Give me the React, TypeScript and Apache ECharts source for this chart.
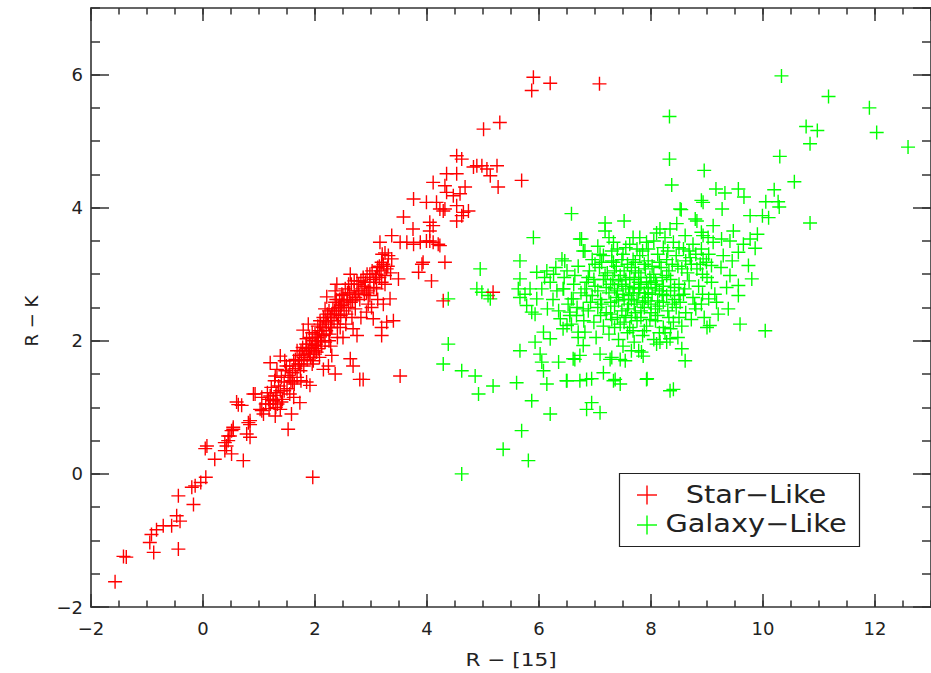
import React, { useEffect, useRef } from "react";
import * as echarts from "echarts";

type P = [number, number];

// Star-like objects: lower tail of the sequence
const starTail: P[] = [
  [-1.57, -1.62], [-1.42, -1.24], [-1.37, -1.25], [-0.95, -1.03], [-0.88, -1.18], [-0.92, -0.91],
  [-0.83, -0.84], [-0.71, -0.78], [-0.56, -0.78], [-0.47, -0.63], [-0.41, -0.71], [-0.44, -1.13],
  [-0.44, -0.33], [-0.17, -0.46], [-0.2, -0.2], [-0.14, -0.18], [-0.04, -0.13], [0.05, -0.05],
  [0.04, 0.38], [0.21, 0.22], [0.39, 0.35], [0.42, 0.42], [0.45, 0.5], [0.48, 0.57], [0.54, 0.67],
  [0.51, 0.3], [0.72, 0.2], [0.63, 1.04], [0.78, 0.6], [0.81, 0.77], [0.84, 0.74], [0.9, 1.2],
  [1.05, 1.15], [1.05, 0.95], [1.08, 0.9], [1.2, 1.05], [1.26, 1.12], [1.32, 1.22], [1.29, 0.87],
  [1.96, -0.05], [2.86, 1.42], [3.52, 1.47], [0.07, 0.42], [0.39, 0.47], [0.45, 0.57], [0.51, 0.65],
  [0.54, 0.7], [0.6, 1.08], [0.69, 1.03], [0.84, 0.8], [0.84, 0.55], [0.93, 1.2], [1.02, 0.97],
  [1.17, 1.12], [1.2, 1.17], [1.38, 0.97], [1.52, 0.67], [1.58, 0.9], [1.73, 1.07],
];

// Star-like objects: dense main band
const starBand: P[] = [
  [1.2, 1.67], [1.29, 1.47], [1.32, 1.57], [1.38, 1.77], [1.46, 1.7], [1.49, 1.62], [1.79, 2.16],
  [1.85, 2.03], [1.91, 1.95], [2.0, 1.93], [2.03, 1.83], [1.85, 1.38], [1.91, 1.33], [2.15, 1.57],
  [2.24, 1.62], [2.36, 1.5], [2.63, 1.73], [2.68, 1.62], [2.8, 1.42], [2.09, 2.3], [2.18, 2.48],
  [2.21, 2.66], [2.39, 2.85], [2.36, 2.75], [2.63, 3.0], [2.75, 2.9], [2.47, 2.53], [2.56, 2.4],
  [2.68, 2.18], [2.75, 2.08], [2.92, 2.43], [3.01, 2.5], [3.04, 2.33], [3.19, 2.2], [3.28, 2.28],
  [3.4, 2.3], [3.19, 2.08], [3.34, 2.63], [3.49, 2.93], [2.98, 2.68], [3.1, 2.78], [3.19, 2.88],
  [3.25, 2.98], [3.28, 3.08], [3.19, 3.18], [3.31, 3.28], [3.37, 3.23],
  [1.12, 1.05], [1.15, 1.22], [1.18, 0.98], [1.22, 1.3], [1.25, 1.1], [1.28, 1.4], [1.3, 1.18],
  [1.33, 1.05], [1.35, 1.32], [1.38, 1.25], [1.4, 1.45], [1.42, 1.12], [1.45, 1.38], [1.47, 1.55],
  [1.5, 1.28], [1.52, 1.48], [1.55, 1.62], [1.57, 1.4], [1.6, 1.52], [1.62, 1.7], [1.63, 1.35],
  [1.65, 1.58], [1.68, 1.45], [1.7, 1.65], [1.68, 1.85], [1.72, 1.78], [1.74, 1.55], [1.76, 1.7],
  [1.78, 1.9], [1.8, 1.62], [1.82, 1.8], [1.84, 1.95], [1.86, 1.72], [1.88, 1.85], [1.9, 2.05],
  [1.92, 1.75], [1.94, 1.9], [1.96, 2.0], [1.98, 1.85], [2.0, 2.1], [1.97, 1.7], [2.02, 1.95],
  [2.04, 2.05], [2.06, 1.88], [2.08, 2.15], [2.1, 2.0], [2.12, 1.92], [2.05, 2.22], [1.88, 2.25],
  [2.14, 2.2], [2.16, 2.08], [2.18, 2.3], [2.2, 2.15], [2.22, 2.4], [2.24, 2.25], [2.26, 2.1],
  [2.28, 2.35], [2.3, 2.2], [2.32, 2.48], [2.34, 2.3], [2.36, 2.58], [2.38, 2.4], [2.4, 2.25],
  [2.42, 2.5], [2.18, 1.98], [2.28, 1.92], [2.4, 2.05], [2.44, 2.62], [2.46, 2.38], [2.48, 2.7],
  [2.5, 2.55], [2.52, 2.45], [2.54, 2.78], [2.57, 2.62], [2.6, 2.5], [2.62, 2.72], [2.65, 2.85],
  [2.67, 2.6], [2.7, 2.75], [2.72, 2.48], [2.75, 2.7], [2.78, 2.85], [2.8, 2.62], [2.55, 2.25],
  [2.66, 2.35], [2.82, 2.35], [2.84, 2.78], [2.86, 2.95], [2.88, 2.7], [2.9, 2.88], [2.93, 3.0],
  [2.95, 2.75], [2.98, 2.88], [3.02, 3.05], [3.05, 2.8], [3.08, 2.95], [3.12, 3.1], [3.15, 2.95],
  [3.18, 3.05], [3.22, 3.15], [3.25, 2.85], [3.3, 3.12], [3.35, 3.02], [3.12, 2.62], [3.22, 2.55],
  [2.95, 2.55],
  [1.45, 1.25], [1.55, 1.45], [1.6, 1.38], [1.65, 1.72], [1.72, 1.65], [1.75, 1.85], [1.8, 1.75],
  [1.85, 1.88], [1.9, 1.8], [1.95, 2.12], [2.0, 1.8], [2.02, 2.05], [2.06, 2.0], [2.1, 2.25],
  [2.12, 2.1], [2.15, 2.35], [2.2, 2.28], [2.25, 2.45], [2.28, 2.2], [2.3, 2.4], [2.35, 2.45],
  [2.38, 2.62], [2.42, 2.35], [2.45, 2.5], [2.5, 2.68], [2.52, 2.6], [2.58, 2.72], [2.6, 2.85],
  [2.64, 2.58], [2.7, 2.9], [2.72, 2.65], [2.78, 2.75], [2.82, 2.9], [2.88, 2.82], [2.92, 2.72],
  [2.98, 3.0], [3.05, 2.92], [3.1, 3.0], [3.15, 3.12], [1.95, 1.65], [2.08, 1.75], [2.25, 2.0],
  [2.45, 2.2], [1.55, 1.2], [1.3, 1.0], [1.4, 1.08], [1.62, 1.15], [1.75, 1.4], [2.3, 1.78],
  [2.5, 2.05],
];

// Star-like objects: upper end of the sequence
const starUpper: P[] = [
  [3.16, 3.48], [3.37, 3.58], [3.52, 3.48], [3.64, 3.48], [3.76, 3.45], [3.88, 3.48], [4.05, 3.5],
  [4.2, 3.45], [4.05, 3.65], [3.91, 3.15], [3.85, 3.03], [4.08, 2.9], [4.32, 3.18], [3.99, 4.08],
  [4.23, 3.98], [4.65, 3.93], [4.53, 3.8], [4.05, 3.78], [4.11, 3.73], [3.99, 3.5], [4.11, 3.48],
  [4.23, 3.43], [3.93, 3.18], [4.29, 2.6], [5.18, 2.73], [5.9, 5.96], [5.87, 5.76], [6.2, 5.87],
  [7.08, 5.86], [5.01, 5.18], [5.3, 5.28], [5.69, 4.41], [4.53, 4.78], [4.62, 4.73], [4.83, 4.61],
  [4.89, 4.63], [4.98, 4.63], [5.07, 4.58], [5.25, 4.63], [5.13, 4.48], [5.27, 4.31], [4.35, 4.51],
  [4.53, 4.51], [4.68, 4.31], [4.11, 4.38], [4.32, 4.33], [4.35, 4.23], [4.47, 4.18], [4.59, 4.21],
  [3.76, 4.13], [4.17, 4.08], [4.32, 3.98], [4.53, 4.03], [4.74, 3.95], [3.58, 3.86], [3.75, 3.68],
  [4.29, 3.95], [4.62, 3.88], [3.2, 3.3], [3.25, 3.32],
];

// Galaxy-like objects: sparse outskirts
const galaxyOuter: P[] = [
  [10.33, 5.98], [11.17, 5.67], [11.9, 5.5], [12.03, 5.13], [12.59, 4.91], [10.77, 5.22], [10.97, 5.16],
  [10.84, 4.96], [10.3, 4.77], [10.56, 4.39], [8.33, 5.37], [8.33, 4.73], [8.37, 4.34], [8.95, 4.56],
  [9.16, 4.28], [9.32, 4.22], [9.56, 4.28], [9.66, 4.16], [8.9, 4.11], [8.54, 3.97], [8.79, 3.83],
  [9.27, 3.98], [9.77, 3.88], [9.99, 3.88], [10.05, 4.09], [10.2, 4.27], [10.27, 4.09], [10.29, 4.01],
  [10.84, 3.77], [7.52, 3.8], [7.18, 3.77], [6.58, 3.91], [5.9, 3.55], [6.76, 3.53], [6.79, 3.35],
  [5.66, 3.2], [4.95, 3.08], [4.89, 2.78], [4.98, 2.73], [5.09, 2.68], [5.13, 2.63], [4.38, 2.63],
  [4.38, 1.95], [4.29, 1.65], [4.62, 1.55], [4.86, 1.47], [5.18, 1.32], [4.92, 1.2], [5.87, 1.1],
  [6.2, 0.9], [6.85, 0.97], [5.69, 0.65], [5.36, 0.37], [5.81, 0.2], [4.62, 0.0], [6.94, 1.07],
  [7.09, 0.92], [8.34, 1.25], [8.4, 1.27], [10.04, 2.15], [9.59, 2.25], [9.05, 2.23],
];

// Galaxy-like objects: intermediate region
const galaxyMid: P[] = [
  [9.11, 3.73], [9.47, 3.65], [9.77, 3.53], [9.86, 3.39], [8.93, 3.58], [9.11, 3.48], [9.26, 3.53],
  [9.41, 3.5], [9.56, 3.33], [9.29, 3.28], [9.03, 3.3], [8.93, 3.23], [9.74, 3.13], [9.8, 2.93],
  [9.41, 2.98], [9.56, 2.83], [9.56, 2.68], [9.38, 2.48], [9.08, 2.88], [9.14, 2.7], [9.03, 2.63],
  [9.17, 2.58], [9.08, 3.13], [8.99, 3.18], [5.66, 2.93], [5.63, 2.78], [5.66, 2.65], [5.78, 2.53],
  [5.87, 2.43], [5.96, 2.63], [5.93, 2.4], [5.84, 2.78], [6.05, 2.78], [5.96, 3.03], [6.14, 3.05],
  [6.26, 3.0], [6.41, 3.23], [6.44, 2.78], [6.32, 2.75], [6.61, 2.63], [6.85, 2.68], [6.79, 2.48],
  [6.67, 2.38], [6.55, 2.43], [6.08, 2.13], [5.93, 1.98], [5.66, 1.85], [6.2, 2.03], [6.02, 1.8],
  [6.05, 1.68], [6.08, 1.55], [6.35, 1.68], [6.38, 2.33], [6.5, 2.23], [6.61, 1.73], [6.73, 1.78],
  [6.79, 1.93], [6.82, 2.13], [6.5, 1.4], [6.73, 1.4], [6.85, 1.42], [5.6, 1.37], [6.14, 1.35],
  [6.94, 1.43], [7.15, 1.52], [7.36, 1.42], [7.45, 1.35], [7.93, 1.43], [8.55, 1.88], [8.61, 1.7],
  [6.64, 1.72], [7.09, 1.8], [7.27, 1.72], [7.54, 1.7], [7.83, 1.83], [8.1, 1.95], [8.28, 1.98],
  [7.18, 3.65], [7.33, 3.48], [8.52, 3.98], [8.82, 3.8], [8.93, 4.08], [8.16, 3.68], [8.34, 3.68],
  [8.46, 3.76], [8.61, 3.58], [8.9, 3.63], [9.02, 3.55], [6.73, 3.53], [6.82, 3.35], [6.46, 3.2],
  [6.64, 2.98], [6.43, 2.78], [6.58, 2.63], [6.55, 2.38], [6.43, 2.18], [6.7, 2.13], [7.09, 3.3],
  [7.33, 3.18], [7.68, 3.55], [7.92, 3.48], [7.3, 1.75], [7.45, 1.72], [7.78, 1.85], [7.86, 1.77],
  [8.16, 1.98], [8.34, 2.03], [9.0, 2.2], [7.33, 1.4], [7.92, 1.42], [6.49, 1.4],
  [6.5, 3.05], [6.62, 2.85], [6.7, 3.12], [6.75, 2.72], [6.52, 2.55], [6.68, 2.5], [6.8, 2.3],
  [6.58, 2.25], [6.45, 2.95], [6.7, 2.05], [8.9, 2.55], [9.0, 2.95], [9.25, 3.1], [9.2, 2.4],
  [8.95, 2.35], [9.45, 3.2], [9.65, 3.45], [9.9, 3.6], [10.1, 3.85], [9.35, 2.8], [6.2, 2.88],
  [6.3, 3.1], [6.1, 2.95], [6.25, 2.62], [5.75, 2.7], [6.15, 2.48], [6.35, 2.45],
];

// Galaxy-like objects: dense core
const galaxyCore: P[] = [
  [7.05, 3.42], [7.4, 3.38], [7.62, 3.45], [7.85, 3.35], [8.05, 3.5], [8.22, 3.4], [8.4, 3.48],
  [8.58, 3.38], [8.75, 3.45], [7.25, 3.55], [8.1, 3.62], [6.95, 3.22], [7.15, 3.28], [7.3, 3.2],
  [7.5, 3.3], [7.68, 3.22], [7.8, 3.28], [7.95, 3.2], [8.12, 3.3], [8.28, 3.22], [8.45, 3.28],
  [8.62, 3.2], [8.8, 3.3], [7.58, 3.15], [8.02, 3.12], [6.9, 3.05], [7.08, 3.1], [7.22, 3.02],
  [7.38, 3.12], [7.52, 3.05], [7.65, 3.1], [7.78, 3.02], [7.9, 3.08], [8.05, 3.0], [8.18, 3.1],
  [8.32, 3.05], [8.48, 3.12], [8.65, 3.02], [8.82, 3.08], [7.45, 2.98], [7.98, 2.95], [6.85, 2.88],
  [7.0, 2.82], [7.15, 2.92], [7.28, 2.85], [7.42, 2.9], [7.55, 2.82], [7.7, 2.92], [7.82, 2.85],
  [7.95, 2.8], [8.08, 2.9], [8.22, 2.82], [8.35, 2.92], [8.5, 2.85], [8.68, 2.9], [8.85, 2.82],
  [7.62, 2.78], [8.15, 2.75], [6.95, 2.68], [7.1, 2.62], [7.25, 2.72], [7.38, 2.65], [7.5, 2.7],
  [7.65, 2.62], [7.78, 2.72], [7.9, 2.65], [8.02, 2.7], [8.12, 2.6], [8.28, 2.68], [8.42, 2.62],
  [8.58, 2.7], [8.75, 2.65], [7.85, 2.58], [6.88, 2.45], [7.05, 2.5], [7.2, 2.42], [7.35, 2.52],
  [7.48, 2.45], [7.6, 2.55], [7.72, 2.42], [7.88, 2.5], [8.0, 2.42], [8.15, 2.52], [8.3, 2.45],
  [8.45, 2.5], [8.62, 2.42], [8.8, 2.48], [7.55, 2.38], [6.98, 2.28], [7.15, 2.22], [7.3, 2.32],
  [7.45, 2.25], [7.62, 2.2], [7.75, 2.3], [7.92, 2.22], [8.08, 2.3], [8.22, 2.2], [8.4, 2.28],
  [8.55, 2.22], [8.72, 2.32], [7.02, 2.05], [7.25, 2.1], [7.42, 2.02], [7.58, 2.12], [7.7, 1.98],
  [7.85, 2.08], [8.05, 2.02], [8.25, 2.12], [8.48, 2.05], [7.5, 1.92], [7.65, 1.85], [7.7, 2.8],
  [7.75, 2.6], [7.88, 2.72], [7.92, 2.88], [8.0, 2.55], [7.6, 2.68], [7.82, 2.95], [8.1, 2.85],
  [7.4, 2.75], [7.55, 2.92], [7.72, 3.05], [8.2, 2.95],
  [7.12, 3.18], [7.35, 3.05], [7.48, 3.22], [7.72, 3.18], [7.88, 3.15], [8.15, 3.18], [8.38, 3.15],
  [8.55, 3.08], [8.72, 3.15], [7.18, 2.98], [7.32, 2.92], [7.48, 2.85], [7.62, 2.95], [7.78, 2.88],
  [8.0, 2.88], [8.28, 2.98], [8.42, 2.8], [8.6, 2.78], [7.05, 2.75], [7.2, 2.8], [7.35, 2.78],
  [7.52, 2.62], [7.68, 2.72], [7.8, 2.78], [7.95, 2.72], [8.08, 2.78], [8.2, 2.7], [8.35, 2.75],
  [8.5, 2.68], [7.12, 2.55], [7.28, 2.58], [7.42, 2.6], [7.58, 2.48], [7.7, 2.55], [7.82, 2.45],
  [7.95, 2.6], [8.08, 2.48], [8.22, 2.58], [8.38, 2.55], [8.52, 2.58], [7.1, 2.38], [7.28, 2.4],
  [7.4, 2.35], [7.65, 2.35], [7.82, 2.35], [7.98, 2.32], [8.12, 2.38], [8.32, 2.35], [8.5, 2.35],
  [7.35, 2.2], [7.52, 2.28], [7.68, 2.15], [7.88, 2.15], [8.15, 2.12], [8.35, 2.18], [6.92, 2.58],
  [6.82, 2.78], [6.88, 2.95], [7.0, 3.15], [6.98, 2.92], [8.7, 3.25], [8.88, 3.15], [8.9, 3.38],
  [8.68, 3.35], [8.5, 3.4], [8.3, 3.35], [7.95, 3.38], [7.75, 3.38], [7.55, 3.4], [7.3, 3.35],
  [8.92, 2.7], [8.78, 2.55], [8.92, 3.0], [8.25, 3.55], [7.8, 3.55],
];

const xName = "R − [15]";
const yName = "R − K";
const legendNames = ["Star−Like", "Galaxy−Like"];
const seriesColors = ["#ff0000", "#00ff00"];

const FONT = '"DejaVu Sans", sans-serif';
const AXIS_COLOR = "#333333";
const TEXT_COLOR = "#222222";
const PLUS = "path://M0,6.3H14V7.7H0Z M6.3,0H7.7V14H6.3Z";

const fmt = (v: number) => (v < 0 ? "\u2212" + Math.abs(v) : String(v));

function xAxisDef(position: "top" | "bottom", major: boolean, labels: boolean) {
  return {
    type: "value",
    position,
    min: -2,
    max: 13,
    interval: major ? 2 : 0.5,
    axisLine: { show: major, onZero: false, lineStyle: { color: AXIS_COLOR, width: 1.6 } },
    axisTick: { show: true, inside: true, length: major ? 13 : 6.5, lineStyle: { color: AXIS_COLOR, width: 1.5 } },
    axisLabel: {
      show: labels,
      formatter: fmt,
      fontFamily: FONT,
      fontSize: 18,
      color: TEXT_COLOR,
      margin: 12,
      showMaxLabel: false,
    },
    splitLine: { show: false },
  };
}

function yAxisDef(position: "left" | "right", major: boolean, labels: boolean) {
  return {
    type: "value",
    position,
    min: -2,
    max: 7,
    interval: major ? 2 : 0.5,
    axisLine: { show: major, onZero: false, lineStyle: { color: AXIS_COLOR, width: 1.6 } },
    axisTick: { show: true, inside: true, length: major ? 18 : 9, lineStyle: { color: AXIS_COLOR, width: 1.5 } },
    axisLabel: {
      show: labels,
      formatter: fmt,
      fontFamily: FONT,
      fontSize: 18,
      color: TEXT_COLOR,
      margin: 8,
      showMaxLabel: false,
    },
    splitLine: { show: false },
  };
}

function plusGraphic(cx: number, cy: number, color: string) {
  return [
    { type: "line", shape: { x1: cx - 10, y1: cy, x2: cx + 10, y2: cy }, style: { stroke: color, lineWidth: 1.4 } },
    { type: "line", shape: { x1: cx, y1: cy - 9.5, x2: cx, y2: cy + 9.5 }, style: { stroke: color, lineWidth: 1.4 } },
  ];
}

export default function App() {
  const ref = useRef<HTMLDivElement>(null);

  useEffect(() => {
    if (!ref.current) return;
    const chart = echarts.init(ref.current, null, { renderer: "svg" });
    const stars = [...starTail, ...starBand, ...starUpper];
    const galaxies = [...galaxyOuter, ...galaxyMid, ...galaxyCore];
    chart.setOption({
      animation: false,
      backgroundColor: "#ffffff",
      grid: { left: 91, top: 8, width: 841, height: 599, containLabel: false },
      xAxis: [
        xAxisDef("bottom", true, true),
        xAxisDef("bottom", false, false),
        xAxisDef("top", true, false),
        xAxisDef("top", false, false),
      ],
      yAxis: [
        yAxisDef("left", true, true),
        yAxisDef("left", false, false),
        yAxisDef("right", true, false),
        yAxisDef("right", false, false),
      ],
      series: [
        {
          name: legendNames[1],
          type: "scatter",
          xAxisIndex: 0,
          yAxisIndex: 0,
          symbol: PLUS,
          symbolSize: 14,
          itemStyle: { color: seriesColors[1], opacity: 1 },
          silent: true,
          data: galaxies,
        },
        {
          name: legendNames[0],
          type: "scatter",
          xAxisIndex: 0,
          yAxisIndex: 0,
          symbol: PLUS,
          symbolSize: 14,
          itemStyle: { color: seriesColors[0], opacity: 1 },
          silent: true,
          data: stars,
        },
      ],
      graphic: [
        {
          type: "text",
          x: 511,
          y: 660,
          scaleX: 1.2,
          style: { text: xName, font: `18px ${FONT}`, fill: TEXT_COLOR, align: "center", verticalAlign: "middle" },
        },
        {
          type: "text",
          x: 31,
          y: 321,
          rotation: Math.PI / 2,
          style: { text: yName, font: `18px ${FONT}`, fill: TEXT_COLOR, align: "center", verticalAlign: "middle" },
        },
        {
          type: "rect",
          shape: { x: 619.5, y: 473.5, width: 240, height: 73 },
          style: { fill: "#ffffff", stroke: "#222222", lineWidth: 1.2 },
        },
        ...plusGraphic(647, 495, seriesColors[0]),
        ...plusGraphic(647, 525, seriesColors[1]),
        {
          type: "text",
          x: 756,
          y: 494,
          scaleX: 1.2,
          style: { text: legendNames[0], font: `24px ${FONT}`, fill: TEXT_COLOR, align: "center", verticalAlign: "middle" },
        },
        {
          type: "text",
          x: 756,
          y: 523,
          scaleX: 1.2,
          style: { text: legendNames[1], font: `24px ${FONT}`, fill: TEXT_COLOR, align: "center", verticalAlign: "middle" },
        },
      ],
    });
    return () => chart.dispose();
  }, []);

  return (
    <div
      ref={ref}
      style={{ position: "absolute", left: 0, top: 0, width: 931, height: 673, background: "#fff" }}
    />
  );
}
